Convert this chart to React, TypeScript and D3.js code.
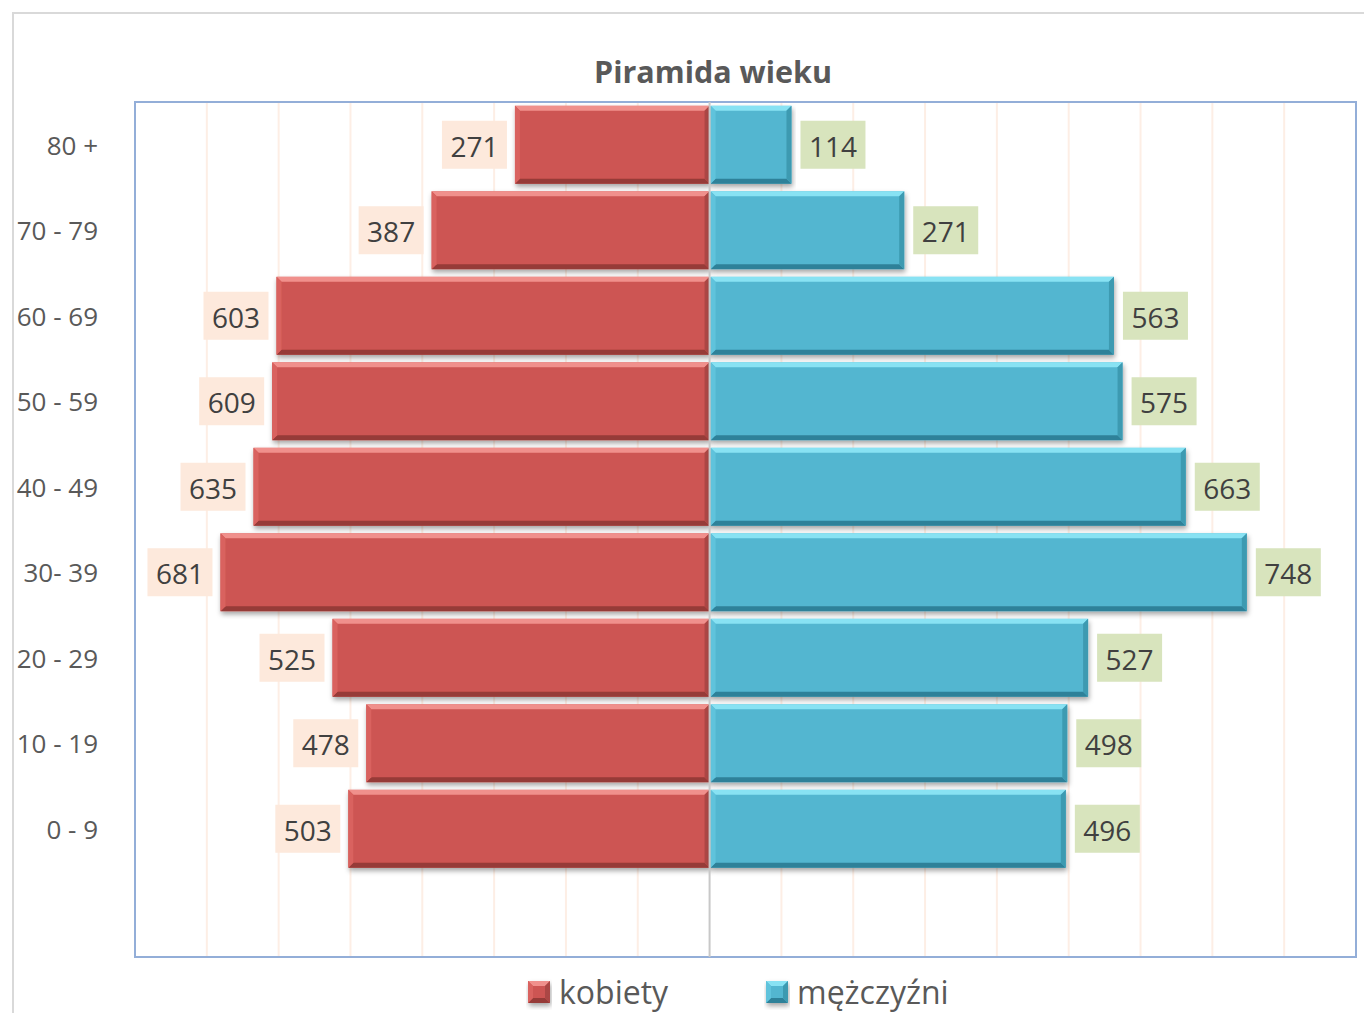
import React from "react";
import * as d3 from "d3";

const categories = ["80 +", "70 - 79", "60 - 69", "50 - 59", "40 - 49", "30- 39", "20 - 29", "10 - 19", "0 - 9", ""];
const kobiety = [271, 387, 603, 609, 635, 681, 525, 478, 503];
const mezczyzni = [114, 271, 563, 575, 663, 748, 527, 498, 496];
const gridTicks = [-700, -600, -500, -400, -300, -200, -100, 100, 200, 300, 400, 500, 600, 700, 800];
const seriesNames = ["kobiety", "mężczyźni"];

const FONT = "'Open Sans', 'DejaVu Sans', sans-serif";

const palettes = {
  red: { main: "#cd5552", top: "#f0908c", bottom: "#963a37", left: "#d9625e", right: "#ab4744", label: "#fde9dc" },
  blue: { main: "#52b6d0", top: "#88e2f3", bottom: "#2f8199", left: "#60c3dc", right: "#3e9ab1", label: "#d8e4bd" },
};

function Bevel({ x0, x1, y0, y1, p }: { x0: number; x1: number; y0: number; y1: number; p: any }) {
  const b = 5;
  const w = x1 - x0;
  const h = y1 - y0;
  const bb = Math.min(b, w / 2);
  return (
    <g filter="url(#shadow)">
      <rect x={x0} y={y0} width={w} height={h} fill={p.main} />
      <polygon points={`${x0},${y0} ${x1},${y0} ${x1 - bb},${y0 + b} ${x0 + bb},${y0 + b}`} fill={p.top} />
      <polygon points={`${x0},${y1} ${x1},${y1} ${x1 - bb},${y1 - b} ${x0 + bb},${y1 - b}`} fill={p.bottom} />
      <polygon points={`${x0},${y0} ${x0 + bb},${y0 + b} ${x0 + bb},${y1 - b} ${x0},${y1}`} fill={p.left} />
      <polygon points={`${x1},${y0} ${x1 - bb},${y0 + b} ${x1 - bb},${y1 - b} ${x1},${y1}`} fill={p.right} />
    </g>
  );
}

export default function App() {
  const W = 1364, H = 1013;
  const plot = { left: 135, right: 1356, top: 102, bottom: 957 };
  const x = d3.scaleLinear().domain([-800, 900]).range([plot.left, plot.right]);
  const y = d3.scaleBand<string>().domain(categories).range([plot.top, plot.bottom]).paddingInner(0.09).paddingOuter(0.045);
  const bh = y.bandwidth();
  const labelH = 48;
  const labelW = 65;

  return (
    <svg width={W} height={H} style={{ position: "absolute", left: 0, top: 0, background: "#fff" }} fontFamily={FONT}>
      <defs>
        <filter id="shadow" x="-5%" y="-20%" width="110%" height="150%">
          <feDropShadow dx="1" dy="3" stdDeviation="2.5" floodColor="#000" floodOpacity="0.35" />
        </filter>
      </defs>
      <rect x={13} y={13} width={W + 20} height={H + 20} fill="#fff" stroke="#d9d9d9" strokeWidth={2} />
      <text x={713} y={83} textAnchor="middle" fontSize={30.5} fontWeight="bold" fill="#595959">Piramida wieku</text>

      {gridTicks.map((t) => (
        <line key={t} x1={x(t)} x2={x(t)} y1={plot.top} y2={plot.bottom} stroke="#fdeee5" strokeWidth={2} />
      ))}
      <rect x={plot.left} y={plot.top} width={plot.right - plot.left} height={plot.bottom - plot.top} fill="none" stroke="#93aed8" strokeWidth={2} />

      {categories.map((c) => (
        <text key={"c" + c} x={98} y={(y(c) as number) + bh / 2} textAnchor="end" dominantBaseline="central" fontSize={26} fill="#595959">{c}</text>
      ))}

      {kobiety.map((v, i) => {
        const c = categories[i];
        const y0 = y(c) as number;
        return <Bevel key={"k" + i} x0={x(-v)} x1={x(0)} y0={y0} y1={y0 + bh} p={palettes.red} />;
      })}
      {mezczyzni.map((v, i) => {
        const c = categories[i];
        const y0 = y(c) as number;
        return <Bevel key={"m" + i} x0={x(0) + 1} x1={x(v)} y0={y0} y1={y0 + bh} p={palettes.blue} />;
      })}

      <line x1={x(0)} x2={x(0)} y1={plot.top} y2={plot.bottom} stroke="#c8c8c8" strokeWidth={2} />

      {kobiety.map((v, i) => {
        const c = categories[i];
        const cy = (y(c) as number) + bh / 2;
        const rx = x(-v) - 8;
        return (
          <g key={"kl" + i}>
            <rect x={rx - labelW} y={cy - labelH / 2} width={labelW} height={labelH} fill={palettes.red.label} />
            <text x={rx - labelW / 2} y={cy + 1} textAnchor="middle" dominantBaseline="central" fontSize={28} fill="#404040">{v}</text>
          </g>
        );
      })}
      {mezczyzni.map((v, i) => {
        const c = categories[i];
        const cy = (y(c) as number) + bh / 2;
        const lx = x(v) + 9;
        return (
          <g key={"ml" + i}>
            <rect x={lx} y={cy - labelH / 2} width={labelW} height={labelH} fill={palettes.blue.label} />
            <text x={lx + labelW / 2} y={cy + 1} textAnchor="middle" dominantBaseline="central" fontSize={28} fill="#404040">{v}</text>
          </g>
        );
      })}

      {seriesNames.map((s, i) => {
        const lx = i === 0 ? 528 : 766;
        const p = i === 0 ? palettes.red : palettes.blue;
        return (
          <g key={s}>
            <Bevel x0={lx} x1={lx + 22} y0={981} y1={1003} p={p} />
            <text x={lx + 31} y={991} dominantBaseline="central" fontSize={32} fill="#595959">{s}</text>
          </g>
        );
      })}
    </svg>
  );
}
